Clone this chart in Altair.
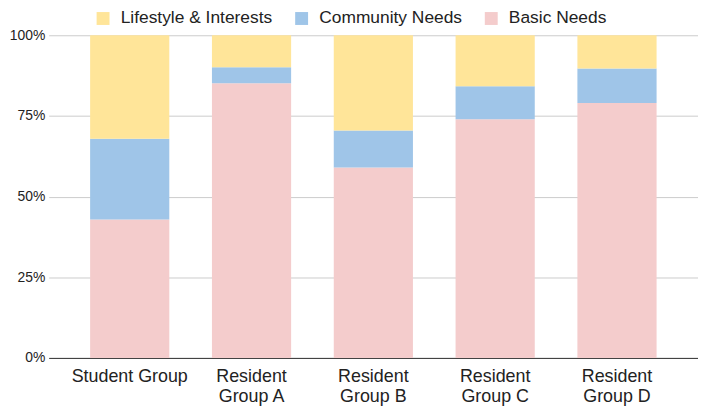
import altair as alt
import pandas as pd

groups = ["Student Group", "Resident Group A", "Resident Group B", "Resident Group C", "Resident Group D"]
series = ["Lifestyle & Interests", "Community Needs", "Basic Needs"]
colors = ["#FFE599", "#9FC5E8", "#F4CCCC"]
basic = [42.9, 85.1, 59.0, 74.0, 79.0]
community = [25.0, 5.0, 11.5, 10.2, 10.7]
lifestyle = [32.1, 9.9, 29.5, 15.8, 10.3]

rows = []
for i, g in enumerate(groups):
    rows.append({"group": g, "series": "Basic Needs", "value": basic[i] / 100, "ord": 0})
    rows.append({"group": g, "series": "Community Needs", "value": community[i] / 100, "ord": 1})
    rows.append({"group": g, "series": "Lifestyle & Interests", "value": lifestyle[i] / 100, "ord": 2})
df = pd.DataFrame(rows)

font = "Liberation Sans"

chart = alt.Chart(df).mark_bar().encode(
    x=alt.X("group:N", sort=groups,
            scale=alt.Scale(paddingInner=0.35, paddingOuter=0.34),
            axis=alt.Axis(title=None, labelAngle=0, ticks=False, domainColor="#333333",
                          labelFontSize=18, labelColor="#222222", labelFont=font,
                          labelPadding=10, labelLineHeight=20,
                          labelExpr="indexof(datum.label, 'Resident') == 0 ? ['Resident', substring(datum.label, 9)] : datum.label")),
    y=alt.Y("value:Q", stack="zero",
            scale=alt.Scale(domain=[0, 1], nice=False),
            axis=alt.Axis(title=None, format="%", values=[0, 0.25, 0.5, 0.75, 1],
                          domain=False, ticks=False, gridColor="#CCCCCC",
                          labelFontSize=14, labelColor="#222222", labelFont=font,
                          labelPadding=4)),
    color=alt.Color("series:N",
                    scale=alt.Scale(domain=series, range=colors),
                    legend=alt.Legend(title=None, orient="none", direction="horizontal",
                                      legendX=46, legendY=-26,
                                      symbolType="square", symbolSize=169, symbolStrokeWidth=0,
                                      labelFontSize=17.5, labelFont=font, labelColor="#222222",
                                      labelOffset=9, columnPadding=20)),
    order=alt.Order("ord:Q", sort="ascending"),
).properties(
    width=654, height=325,
    autosize=alt.AutoSizeParams(type="none"),
    padding={"left": 41, "top": 26, "right": 0, "bottom": 50},
).configure_view(stroke=None)

chart.save("out.html", embed_options={"renderer": "svg", "actions": False})
